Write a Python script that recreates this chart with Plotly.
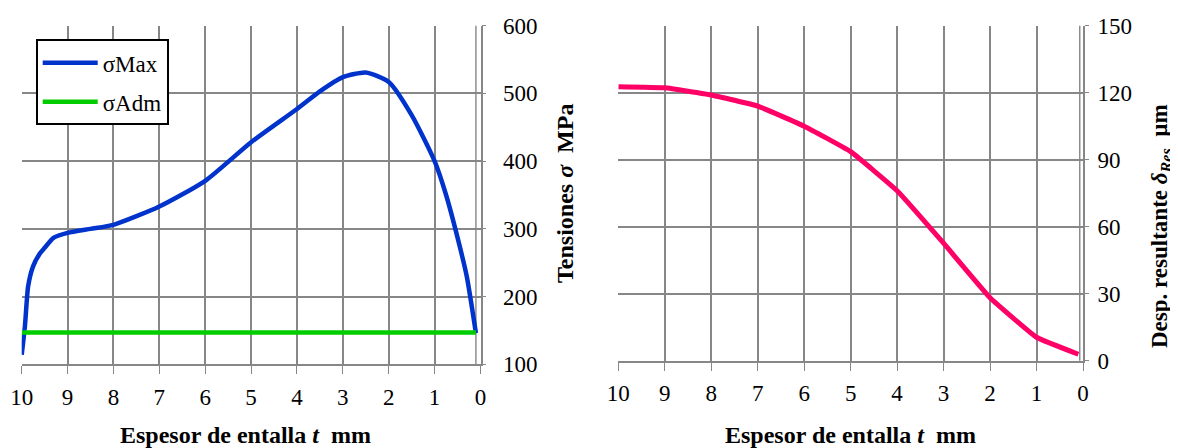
import plotly.graph_objects as go

# ---- data ----
t_sigma = [10, 9.93, 9.86, 9.75, 9.6, 9.5, 9.3, 9.0, 8.5, 8.0, 7.0, 6.0, 5.0, 4.0,
           3.5, 3.0, 2.5, 2.0, 1.5, 1.0, 0.75, 0.5, 0.3, 0.1]
sigma_max = [114, 156, 215, 245, 264, 272, 287, 294, 300, 306, 333, 371, 428, 477,
             503, 524, 531, 517, 468, 400, 350, 287, 230, 146]
t_adm = [10, 0.1]
sigma_adm = [147, 147]

t_desp = [10, 9, 8, 7, 6, 5, 4, 3, 2, 1, 0.1]
desp_res = [122.7, 122.2, 119.0, 114.0, 105.0, 93.6, 76.1, 52.6, 28.2, 10.5, 2.9]

x_ticks = [10, 9, 8, 7, 6, 5, 4, 3, 2, 1, 0]
y1_ticks = [100, 200, 300, 400, 500, 600]
y2_ticks = [0, 30, 60, 90, 120, 150]

# ---- style ----
OFF = 8                      # page body margin
W, H = 1178 - OFF, 448 - OFF  # figure size inside the window
FONT = "Liberation Serif, Times New Roman, serif"
GRID = "#878787"
BLUE = "#0033CC"
GREEN = "#00CC00"
PINK = "#FF0066"


def px(X):
    return (X - OFF) / W


def py(Y):
    return 1 - (Y - OFF) / H


fig = go.Figure()
fig.add_trace(go.Scatter(x=t_sigma, y=sigma_max, mode="lines", name="σMax",
                         line=dict(color=BLUE, width=4.5, shape="spline", smoothing=0.6),
                         xaxis="x", yaxis="y", legendgroup="a"))
fig.add_trace(go.Scatter(x=t_adm, y=sigma_adm, mode="lines", name="σAdm",
                         line=dict(color=GREEN, width=4.5),
                         xaxis="x", yaxis="y", legendgroup="b"))
fig.add_trace(go.Scatter(x=t_desp, y=desp_res, mode="lines", name="δRes",
                         line=dict(color=PINK, width=5, shape="spline", smoothing=0.3),
                         xaxis="x2", yaxis="y2", showlegend=False))

xd1 = [px(21.7), px(480.5)]
xd2 = [px(618.3), px(1083.0)]
yd1 = [py(364.3), py(25.7)]
yd2 = [py(360.7), py(25.7)]

xcommon = dict(autorange=False, automargin=False, tickmode="array", tickvals=x_ticks,
               ticktext=[str(v) for v in x_ticks],
               showgrid=True, gridcolor=GRID, gridwidth=1.5,
               showline=True, linecolor=GRID, linewidth=1.6,
               ticks="outside", ticklen=8, tickcolor=GRID, tickwidth=1.4,
               tickfont=dict(family=FONT, size=23, color="black"),
               zeroline=False, ticklabelstandoff=3)
ycommon = dict(autorange=False, automargin=False, side="right", tickmode="array",
               showgrid=True, gridcolor=GRID, gridwidth=1.5,
               showline=True, linecolor=GRID, linewidth=1.6,
               ticks="outside", ticklen=4, tickcolor=GRID, tickwidth=1.4,
               tickfont=dict(family=FONT, size=23, color="black"),
               zeroline=False)

fig.update_layout(
    width=W, height=H,
    margin=dict(l=0, r=0, t=0, b=0, autoexpand=False),
    paper_bgcolor="white", plot_bgcolor="white",
    xaxis=dict(domain=xd1, range=[10, 0], anchor="y", **xcommon),
    yaxis=dict(domain=yd1, range=[100, 600], anchor="x", tickvals=y1_ticks,
               ticklabelstandoff=12, **ycommon),
    xaxis2=dict(domain=xd2, range=[10, 0], anchor="y2", **xcommon),
    yaxis2=dict(domain=yd2, range=[0, 150], anchor="x2", tickvals=y2_ticks,
                ticklabelstandoff=4, **ycommon),
    legend=dict(x=px(35.7), y=py(39.3), xanchor="left", yanchor="top",
                bgcolor="white", bordercolor="black", borderwidth=2,
                font=dict(family=FONT, size=23, color="black"),
                traceorder="grouped", tracegroupgap=6, itemwidth=55),
    showlegend=True,
)

# extra vertical line at last data position (as in the source)
fig.add_shape(type="line", xref="x", yref="y domain", x0=t_sigma[-1], x1=t_sigma[-1],
              y0=0, y1=1, line=dict(color=GRID, width=1.4), layer="below")
fig.add_shape(type="line", xref="x2", yref="y2 domain", x0=t_desp[-1] * 0.7, x1=t_desp[-1] * 0.7,
              y0=0, y1=1, line=dict(color=GRID, width=1.4), layer="below")

tfont = dict(family=FONT, size=24, color="black")
fig.add_annotation(text="<b>Espesor de entalla <i>t</i>\u00a0\u00a0mm</b>", xref="paper", yref="paper",
                   x=px(245), y=py(435), showarrow=False, font=tfont,
                   xanchor="center", yanchor="middle")
fig.add_annotation(text="<b>Espesor de entalla <i>t</i>\u00a0\u00a0mm</b>", xref="paper", yref="paper",
                   x=px(850), y=py(435), showarrow=False, font=tfont,
                   xanchor="center", yanchor="middle")
fig.add_annotation(text="<b>Tensiones <i>σ</i>\u00a0\u00a0MPa</b>", xref="paper", yref="paper",
                   x=px(565), y=py(194), showarrow=False, font=tfont, textangle=-90,
                   xanchor="center", yanchor="middle")
fig.add_annotation(text="<b>Desp. resultante <i>δ<sub>Res</sub></i>\u00a0\u00a0µm</b>", xref="paper", yref="paper",
                   x=px(1161), y=py(226), showarrow=False, font=dict(family=FONT, size=23, color="black"),
                   textangle=-90, xanchor="center", yanchor="middle")

fig.write_html("out.html")
